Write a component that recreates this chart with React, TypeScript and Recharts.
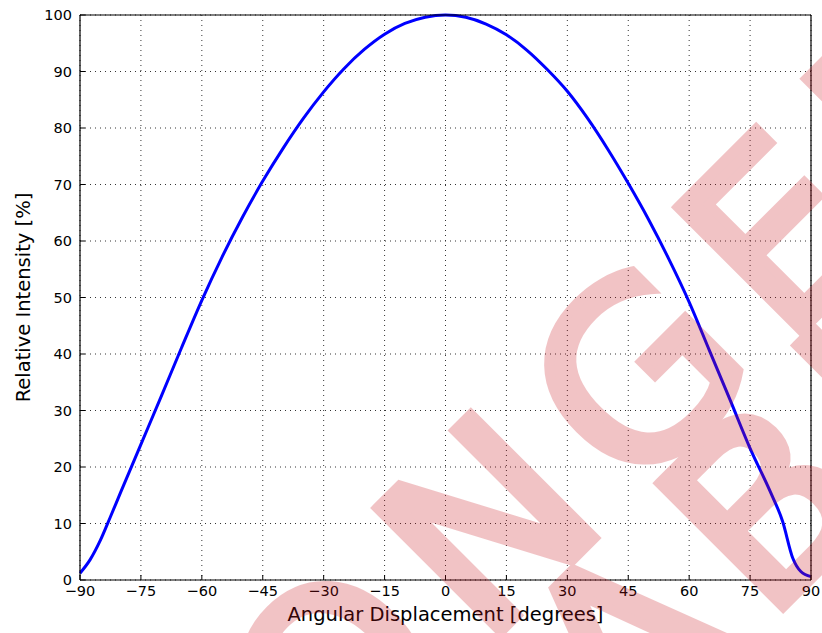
import React from "react";
import { LineChart, Line, XAxis, YAxis, CartesianGrid } from "recharts";

// angle in degrees, relative intensity in %
const angles = [
  -90, -87.5, -85, -82.5, -80, -75, -70, -65, -60, -55, -50, -45, -40, -35,
  -30, -25, -20, -15, -10, -5, 0, 5, 10, 15, 20, 25, 30, 35, 40, 45, 50, 55,
  60, 65, 70, 75, 80, 83, 85.5, 87.5, 90,
];
const intensity = [
  1.2, 3.6, 7.0, 11.2, 15.5, 24.0, 32.5, 41.1, 49.5, 57.2, 64.2, 70.6, 76.4,
  81.7, 86.4, 90.5, 93.9, 96.6, 98.5, 99.6, 100, 99.6, 98.4, 96.5, 93.8, 90.4,
  86.5, 81.7, 76.2, 70.2, 63.8, 56.8, 49.2, 40.6, 32.0, 23.3, 15.6, 10.4, 3.9,
  1.5, 0.6,
];

const xTicks = [-90, -75, -60, -45, -30, -15, 0, 15, 30, 45, 60, 75, 90];
const yTicks = [0, 10, 20, 30, 40, 50, 60, 70, 80, 90, 100];

const watermarkLines = ["NO LONGER", "AVAILABLE"];

const data = angles.map((a, i) => ({ angle: a, value: intensity[i] }));

const FONT = "'DejaVu Sans', sans-serif";
const tickStyle = { fontSize: 14.5, fill: "#000", fontFamily: FONT };
const minus = (v: number) => String(v).replace("-", "\u2212");

const wmText = {
  fontFamily: "'DejaVu Sans', sans-serif",
  fontSize: 240,
  letterSpacing: 30,
  fill: "#c8141e",
  stroke: "#c8141e",
  strokeWidth: 10,
  strokeLinejoin: "miter" as const,
};

const Watermark = () => (
  <svg
    width={822}
    height={633}
    style={{ position: "absolute", left: 0, top: 0, pointerEvents: "none" }}
  >
    <g transform="translate(642,366) rotate(-45)" opacity={0.25}>
      <text x={-1220} y={88} {...wmText}>
        {watermarkLines[0]}
      </text>
      <text x={-1110} y={270} {...wmText}>
        {watermarkLines[1]}
      </text>
    </g>
  </svg>
);

export default function App() {
  return (
    <div
      style={{
        position: "absolute",
        left: 0,
        top: 0,
        width: 822,
        height: 633,
        background: "#fff",
        fontFamily: FONT,
        overflow: "hidden",
      }}
    >
      <LineChart
        width={822}
        height={633}
        data={data}
        margin={{ top: 14, right: 10, bottom: 0, left: 0 }}
      >
        <CartesianGrid
          stroke="#333"
          strokeWidth={1}
          strokeDasharray="1 4"
          horizontalValues={yTicks}
          verticalValues={xTicks}
        />
        <XAxis
          dataKey="angle"
          type="number"
          domain={[-90, 90]}
          ticks={xTicks}
          tickFormatter={minus}
          tickSize={-5}
          tickMargin={11}
          height={53}
          axisLine={{ stroke: "#000", strokeWidth: 1.2 }}
          tickLine={{ stroke: "#000" }}
          tick={tickStyle}
          interval={0}
          label={{
            value: "Angular Displacement [degrees]",
            position: "insideBottom",
            offset: 12,
            fontSize: 19.5,
            fill: "#000",
            fontFamily: FONT,
          }}
        />
        <XAxis
          xAxisId="top"
          dataKey="angle"
          type="number"
          orientation="top"
          domain={[-90, 90]}
          ticks={xTicks}
          tickSize={-5}
          height={1}
          tick={false}
          axisLine={{ stroke: "#000", strokeWidth: 1.2 }}
          tickLine={{ stroke: "#000" }}
          interval={0}
        />
        <YAxis
          type="number"
          domain={[0, 100]}
          ticks={yTicks}
          tickSize={-5}
          tickMargin={13}
          width={80}
          axisLine={{ stroke: "#000", strokeWidth: 1.2 }}
          tickLine={{ stroke: "#000" }}
          tick={tickStyle}
          interval={0}
          label={{
            value: "Relative Intensity [%]",
            angle: -90,
            position: "insideLeft",
            offset: 23,
            fontSize: 19.5,
            fill: "#000",
            fontFamily: FONT,
            style: { textAnchor: "middle" },
          }}
        />
        <YAxis
          yAxisId="right"
          type="number"
          orientation="right"
          domain={[0, 100]}
          ticks={yTicks}
          tickSize={-5}
          width={1}
          tick={false}
          axisLine={{ stroke: "#000", strokeWidth: 1.2 }}
          tickLine={{ stroke: "#000" }}
          interval={0}
        />
        <Line
          dataKey="value"
          type="monotone"
          stroke="#0000ff"
          strokeWidth={3}
          dot={false}
          isAnimationActive={false}
        />
      </LineChart>
      <Watermark />
    </div>
  );
}
